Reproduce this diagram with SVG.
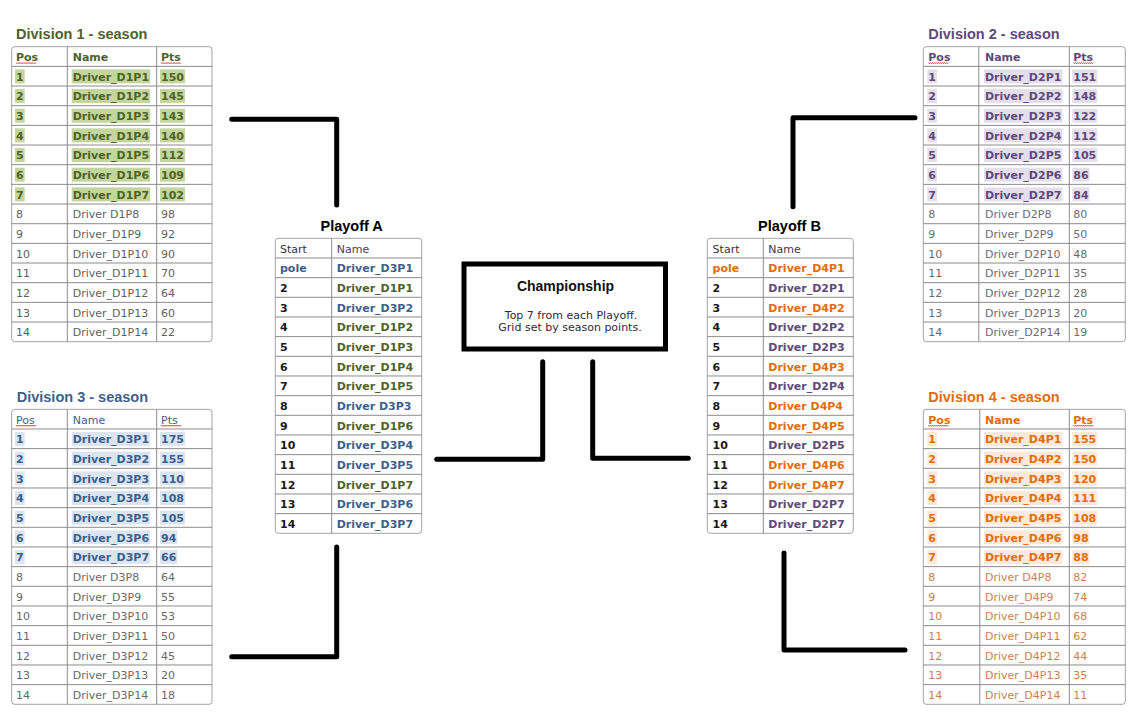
<svg xmlns="http://www.w3.org/2000/svg" xmlns:xlink="http://www.w3.org/1999/xlink" width="1136" height="727" viewBox="0 0 1136 727">
<style>
.t{font-family:"DejaVu Sans",Verdana,sans-serif;font-size:11px}
.b{font-weight:bold}
.h{font-family:"Liberation Sans",Arial,sans-serif;font-size:14.5px;font-weight:bold}
.fr{fill:#fff;stroke:#a3a3a3;stroke-width:1}
.gl{fill:none;stroke:#8c8c8c;stroke-width:1}
.sp{fill:none;stroke:#e02020;stroke-width:0.8}
.c1{fill:#4f6228}.k1{fill:#c3d69b}.l1{fill:#5f5f5f}
.c2{fill:#5f497a}.k2{fill:#e5dfec}.l2{fill:#6e6872}
.c3{fill:#3d5f8c}.k3{fill:#dbe5f1}.l3{fill:#66686c}
.c4{fill:#e36c0a}.k4{fill:#fde9d9}.l4{fill:#cd7f4c}
.n{fill:#1a1a1a}
.conn{fill:none;stroke:#000;stroke-width:5;stroke-linecap:round;stroke-linejoin:round}
</style>
<defs>
<path id="sq" d="M0 0l1 1.2 1-1.2 1 1.2 1-1.2 1 1.2 1-1.2 1 1.2 1-1.2 1 1.2 1-1.2 1 1.2 1-1.2 1 1.2 1-1.2 1 1.2 1-1.2 1 1.2 1-1.2 1 1.2 1-1.2"/>
<path id="rows200" d="M0 19.67H200.3M0 39.33H200.3M0 59H200.3M0 78.67H200.3M0 98.33H200.3M0 118H200.3M0 137.67H200.3M0 157.33H200.3M0 177H200.3M0 196.67H200.3M0 216.33H200.3M0 236H200.3M0 255.67H200.3M0 275.33H200.3"/>
<path id="rows202" d="M0 19.67H202M0 39.33H202M0 59H202M0 78.67H202M0 98.33H202M0 118H202M0 137.67H202M0 157.33H202M0 177H202M0 196.67H202M0 216.33H202M0 236H202M0 255.67H202M0 275.33H202"/>
<path id="rows146" d="M0 19.67H146.4M0 39.33H146.4M0 59H146.4M0 78.67H146.4M0 98.33H146.4M0 118H146.4M0 137.67H146.4M0 157.33H146.4M0 177H146.4M0 196.67H146.4M0 216.33H146.4M0 236H146.4M0 255.67H146.4M0 275.33H146.4"/>
</defs>
<rect width="1136" height="727" fill="#fff"/>

<g id="connectors" class="conn">
<path d="M231.7 119.3H336.7V205"/>
<path d="M915 117.7H793V206.7"/>
<path d="M231.7 656.7H336.7V547"/>
<path d="M905 650H784V553"/>
<path d="M436.7 459.3H542.7V361.7"/>
<path d="M688.3 458.3H592.7V361.7"/>
</g>

<g id="division-1" class="t" transform="translate(11.7,46.7)">
<text class="h c1" x="4.3" y="-7.4">Division 1 - season</text>
<rect class="fr" width="200.3" height="295" rx="3"/>
<use href="#rows200" class="gl"/>
<path class="gl" d="M55.6 0V295M145 0V295"/>
<g class="k1">
<rect x="3.3" y="22.67" width="9.7" height="14"/><rect x="60" y="22.67" width="78.5" height="14"/><rect x="148.3" y="22.67" width="25" height="14"/>
<rect x="3.3" y="42.33" width="9.7" height="14"/><rect x="60" y="42.33" width="78.5" height="14"/><rect x="148.3" y="42.33" width="25" height="14"/>
<rect x="3.3" y="62" width="9.7" height="14"/><rect x="60" y="62" width="78.5" height="14"/><rect x="148.3" y="62" width="25" height="14"/>
<rect x="3.3" y="81.67" width="9.7" height="14"/><rect x="60" y="81.67" width="78.5" height="14"/><rect x="148.3" y="81.67" width="25" height="14"/>
<rect x="3.3" y="101.33" width="9.7" height="14"/><rect x="60" y="101.33" width="78.5" height="14"/><rect x="148.3" y="101.33" width="25" height="14"/>
<rect x="3.3" y="121" width="9.7" height="14"/><rect x="60" y="121" width="78.5" height="14"/><rect x="148.3" y="121" width="25" height="14"/>
<rect x="3.3" y="140.67" width="9.7" height="14"/><rect x="60" y="140.67" width="78.5" height="14"/><rect x="148.3" y="140.67" width="25" height="14"/>
</g>
<g class="b c1">
<text x="4.3" y="14.3">Pos</text><text x="61" y="14.3">Name</text><text x="149.3" y="14.3">Pts</text>
<text x="4.3" y="34">1</text><text x="61" y="34">Driver_D1P1</text><text x="149.3" y="34">150</text>
<text x="4.3" y="53.6">2</text><text x="61" y="53.6">Driver_D1P2</text><text x="149.3" y="53.6">145</text>
<text x="4.3" y="73.3">3</text><text x="61" y="73.3">Driver_D1P3</text><text x="149.3" y="73.3">143</text>
<text x="4.3" y="93">4</text><text x="61" y="93">Driver_D1P4</text><text x="149.3" y="93">140</text>
<text x="4.3" y="112.6">5</text><text x="61" y="112.6">Driver_D1P5</text><text x="149.3" y="112.6">112</text>
<text x="4.3" y="132.3">6</text><text x="61" y="132.3">Driver_D1P6</text><text x="149.3" y="132.3">109</text>
<text x="4.3" y="152">7</text><text x="61" y="152">Driver_D1P7</text><text x="149.3" y="152">102</text>
</g>
<g class="l1">
<text x="4.3" y="171.6">8</text><text x="61" y="171.6">Driver D1P8</text><text x="149.3" y="171.6">98</text>
<text x="4.3" y="191.3">9</text><text x="61" y="191.3">Driver_D1P9</text><text x="149.3" y="191.3">92</text>
<text x="4.3" y="211">10</text><text x="61" y="211">Driver_D1P10</text><text x="149.3" y="211">90</text>
<text x="4.3" y="230.6">11</text><text x="61" y="230.6">Driver_D1P11</text><text x="149.3" y="230.6">70</text>
<text x="4.3" y="250.3">12</text><text x="61" y="250.3">Driver_D1P12</text><text x="149.3" y="250.3">64</text>
<text x="4.3" y="270">13</text><text x="61" y="270">Driver_D1P13</text><text x="149.3" y="270">60</text>
<text x="4.3" y="289.6">14</text><text x="61" y="289.6">Driver_D1P14</text><text x="149.3" y="289.6">22</text>
</g>
<use href="#sq" x="4.3" y="15.8" class="sp"/><use href="#sq" x="149.3" y="15.8" class="sp"/>
</g>

<g id="division-2" class="t" transform="translate(923.3,46.7)">
<text class="h c2" x="5" y="-7.4">Division 2 - season</text>
<rect class="fr" width="202" height="295" rx="3"/>
<use href="#rows202" class="gl"/>
<path class="gl" d="M55.5 0V295M146 0V295"/>
<g class="k2">
<rect x="4" y="22.67" width="9.7" height="14"/><rect x="60.7" y="22.67" width="78.5" height="14"/><rect x="149" y="22.67" width="25" height="14"/>
<rect x="4" y="42.33" width="9.7" height="14"/><rect x="60.7" y="42.33" width="78.5" height="14"/><rect x="149" y="42.33" width="25" height="14"/>
<rect x="4" y="62" width="9.7" height="14"/><rect x="60.7" y="62" width="78.5" height="14"/><rect x="149" y="62" width="25" height="14"/>
<rect x="4" y="81.67" width="9.7" height="14"/><rect x="60.7" y="81.67" width="78.5" height="14"/><rect x="149" y="81.67" width="25" height="14"/>
<rect x="4" y="101.33" width="9.7" height="14"/><rect x="60.7" y="101.33" width="78.5" height="14"/><rect x="149" y="101.33" width="25" height="14"/>
<rect x="4" y="121" width="9.7" height="14"/><rect x="60.7" y="121" width="78.5" height="14"/><rect x="149" y="121" width="17.3" height="14"/>
<rect x="4" y="140.67" width="9.7" height="14"/><rect x="60.7" y="140.67" width="78.5" height="14"/><rect x="149" y="140.67" width="17.3" height="14"/>
</g>
<g class="b c2">
<text x="5" y="14.3">Pos</text><text x="61.7" y="14.3">Name</text><text x="150" y="14.3">Pts</text>
<text x="5" y="34">1</text><text x="61.7" y="34">Driver_D2P1</text><text x="150" y="34">151</text>
<text x="5" y="53.6">2</text><text x="61.7" y="53.6">Driver_D2P2</text><text x="150" y="53.6">148</text>
<text x="5" y="73.3">3</text><text x="61.7" y="73.3">Driver_D2P3</text><text x="150" y="73.3">122</text>
<text x="5" y="93">4</text><text x="61.7" y="93">Driver_D2P4</text><text x="150" y="93">112</text>
<text x="5" y="112.6">5</text><text x="61.7" y="112.6">Driver_D2P5</text><text x="150" y="112.6">105</text>
<text x="5" y="132.3">6</text><text x="61.7" y="132.3">Driver_D2P6</text><text x="150" y="132.3">86</text>
<text x="5" y="152">7</text><text x="61.7" y="152">Driver_D2P7</text><text x="150" y="152">84</text>
</g>
<g class="l2">
<text x="5" y="171.6">8</text><text x="61.7" y="171.6">Driver D2P8</text><text x="150" y="171.6">80</text>
<text x="5" y="191.3">9</text><text x="61.7" y="191.3">Driver_D2P9</text><text x="150" y="191.3">50</text>
<text x="5" y="211">10</text><text x="61.7" y="211">Driver_D2P10</text><text x="150" y="211">48</text>
<text x="5" y="230.6">11</text><text x="61.7" y="230.6">Driver_D2P11</text><text x="150" y="230.6">35</text>
<text x="5" y="250.3">12</text><text x="61.7" y="250.3">Driver_D2P12</text><text x="150" y="250.3">28</text>
<text x="5" y="270">13</text><text x="61.7" y="270">Driver_D2P13</text><text x="150" y="270">20</text>
<text x="5" y="289.6">14</text><text x="61.7" y="289.6">Driver_D2P14</text><text x="150" y="289.6">19</text>
</g>
<use href="#sq" x="5" y="15.8" class="sp"/><use href="#sq" x="150" y="15.8" class="sp"/>
</g>

<g id="division-3" class="t" transform="translate(11.7,409.3)">
<text class="h c3" x="5" y="-7.6">Division 3 - season</text>
<rect class="fr" width="200.3" height="295" rx="3"/>
<use href="#rows200" class="gl"/>
<path class="gl" d="M55.6 0V295M145 0V295"/>
<g class="k3">
<rect x="3.3" y="22.67" width="9.7" height="14"/><rect x="60" y="22.67" width="78.5" height="14"/><rect x="148.3" y="22.67" width="25" height="14"/>
<rect x="3.3" y="42.33" width="9.7" height="14"/><rect x="60" y="42.33" width="78.5" height="14"/><rect x="148.3" y="42.33" width="25" height="14"/>
<rect x="3.3" y="62" width="9.7" height="14"/><rect x="60" y="62" width="78.5" height="14"/><rect x="148.3" y="62" width="25" height="14"/>
<rect x="3.3" y="81.67" width="9.7" height="14"/><rect x="60" y="81.67" width="78.5" height="14"/><rect x="148.3" y="81.67" width="25" height="14"/>
<rect x="3.3" y="101.33" width="9.7" height="14"/><rect x="60" y="101.33" width="78.5" height="14"/><rect x="148.3" y="101.33" width="25" height="14"/>
<rect x="3.3" y="121" width="9.7" height="14"/><rect x="60" y="121" width="78.5" height="14"/><rect x="148.3" y="121" width="17.3" height="14"/>
<rect x="3.3" y="140.67" width="9.7" height="14"/><rect x="60" y="140.67" width="78.5" height="14"/><rect x="148.3" y="140.67" width="17.3" height="14"/>
</g>
<g class="c3">
<text x="4.3" y="14.3">Pos</text><text x="61" y="14.3">Name</text><text x="149.3" y="14.3">Pts</text>
</g>
<g class="b c3">
<text x="4.3" y="34">1</text><text x="61" y="34">Driver_D3P1</text><text x="149.3" y="34">175</text>
<text x="4.3" y="53.6">2</text><text x="61" y="53.6">Driver_D3P2</text><text x="149.3" y="53.6">155</text>
<text x="4.3" y="73.3">3</text><text x="61" y="73.3">Driver_D3P3</text><text x="149.3" y="73.3">110</text>
<text x="4.3" y="93">4</text><text x="61" y="93">Driver_D3P4</text><text x="149.3" y="93">108</text>
<text x="4.3" y="112.6">5</text><text x="61" y="112.6">Driver_D3P5</text><text x="149.3" y="112.6">105</text>
<text x="4.3" y="132.3">6</text><text x="61" y="132.3">Driver_D3P6</text><text x="149.3" y="132.3">94</text>
<text x="4.3" y="152">7</text><text x="61" y="152">Driver_D3P7</text><text x="149.3" y="152">66</text>
</g>
<g class="l3">
<text x="4.3" y="171.6">8</text><text x="61" y="171.6">Driver D3P8</text><text x="149.3" y="171.6">64</text>
<text x="4.3" y="191.3">9</text><text x="61" y="191.3">Driver_D3P9</text><text x="149.3" y="191.3">55</text>
<text x="4.3" y="211">10</text><text x="61" y="211">Driver_D3P10</text><text x="149.3" y="211">53</text>
<text x="4.3" y="230.6">11</text><text x="61" y="230.6">Driver_D3P11</text><text x="149.3" y="230.6">50</text>
<text x="4.3" y="250.3">12</text><text x="61" y="250.3">Driver_D3P12</text><text x="149.3" y="250.3">45</text>
<text x="4.3" y="270">13</text><text x="61" y="270">Driver_D3P13</text><text x="149.3" y="270">20</text>
<text x="4.3" y="289.6">14</text><text x="61" y="289.6">Driver_D3P14</text><text x="149.3" y="289.6">18</text>
</g>
<use href="#sq" x="4.3" y="15.8" class="sp"/><use href="#sq" x="149.3" y="15.8" class="sp"/>
</g>

<g id="division-4" class="t" transform="translate(923.3,409.3)">
<text class="h c4" x="5" y="-7.6">Division 4 - season</text>
<rect class="fr" width="202" height="295" rx="3"/>
<use href="#rows202" class="gl"/>
<path class="gl" d="M56.5 0V295M146 0V295"/>
<g class="k4">
<rect x="4" y="22.67" width="9.7" height="14"/><rect x="60.7" y="22.67" width="78.5" height="14"/><rect x="149" y="22.67" width="25" height="14"/>
<rect x="4" y="42.33" width="9.7" height="14"/><rect x="60.7" y="42.33" width="78.5" height="14"/><rect x="149" y="42.33" width="25" height="14"/>
<rect x="4" y="62" width="9.7" height="14"/><rect x="60.7" y="62" width="78.5" height="14"/><rect x="149" y="62" width="25" height="14"/>
<rect x="4" y="81.67" width="9.7" height="14"/><rect x="60.7" y="81.67" width="78.5" height="14"/><rect x="149" y="81.67" width="25" height="14"/>
<rect x="4" y="101.33" width="9.7" height="14"/><rect x="60.7" y="101.33" width="78.5" height="14"/><rect x="149" y="101.33" width="25" height="14"/>
<rect x="4" y="121" width="9.7" height="14"/><rect x="60.7" y="121" width="78.5" height="14"/><rect x="149" y="121" width="17.3" height="14"/>
<rect x="4" y="140.67" width="9.7" height="14"/><rect x="60.7" y="140.67" width="78.5" height="14"/><rect x="149" y="140.67" width="17.3" height="14"/>
</g>
<g class="b c4">
<text x="5" y="14.3">Pos</text><text x="61.7" y="14.3">Name</text><text x="150" y="14.3">Pts</text>
<text x="5" y="34">1</text><text x="61.7" y="34">Driver_D4P1</text><text x="150" y="34">155</text>
<text x="5" y="53.6">2</text><text x="61.7" y="53.6">Driver_D4P2</text><text x="150" y="53.6">150</text>
<text x="5" y="73.3">3</text><text x="61.7" y="73.3">Driver_D4P3</text><text x="150" y="73.3">120</text>
<text x="5" y="93">4</text><text x="61.7" y="93">Driver_D4P4</text><text x="150" y="93">111</text>
<text x="5" y="112.6">5</text><text x="61.7" y="112.6">Driver_D4P5</text><text x="150" y="112.6">108</text>
<text x="5" y="132.3">6</text><text x="61.7" y="132.3">Driver_D4P6</text><text x="150" y="132.3">98</text>
<text x="5" y="152">7</text><text x="61.7" y="152">Driver_D4P7</text><text x="150" y="152">88</text>
</g>
<g class="l4">
<text x="5" y="171.6">8</text><text x="61.7" y="171.6">Driver D4P8</text><text x="150" y="171.6">82</text>
<text x="5" y="191.3">9</text><text x="61.7" y="191.3">Driver_D4P9</text><text x="150" y="191.3">74</text>
<text x="5" y="211">10</text><text x="61.7" y="211">Driver_D4P10</text><text x="150" y="211">68</text>
<text x="5" y="230.6">11</text><text x="61.7" y="230.6">Driver_D4P11</text><text x="150" y="230.6">62</text>
<text x="5" y="250.3">12</text><text x="61.7" y="250.3">Driver_D4P12</text><text x="150" y="250.3">44</text>
<text x="5" y="270">13</text><text x="61.7" y="270">Driver_D4P13</text><text x="150" y="270">35</text>
<text x="5" y="289.6">14</text><text x="61.7" y="289.6">Driver_D4P14</text><text x="150" y="289.6">11</text>
</g>
<use href="#sq" x="5" y="15.8" class="sp"/><use href="#sq" x="150" y="15.8" class="sp"/>
</g>

<g id="playoff-a" class="t" transform="translate(275.3,238.3)">
<text class="h" fill="#000" x="76.4" y="-7.6" text-anchor="middle">Playoff A</text>
<rect class="fr" width="146.4" height="295" rx="3"/>
<use href="#rows146" class="gl"/>
<path class="gl" d="M56.4 0V295"/>
<text x="4.7" y="14.3" fill="#333">Start</text><text x="61.4" y="14.3" fill="#4a3a55">Name</text>
<g class="b">
<text x="4.7" y="34" class="c3">pole</text>
<g class="n">
<text x="4.7" y="53.6">2</text><text x="4.7" y="73.3">3</text><text x="4.7" y="93">4</text><text x="4.7" y="112.6">5</text><text x="4.7" y="132.3">6</text><text x="4.7" y="152">7</text><text x="4.7" y="171.6">8</text><text x="4.7" y="191.3">9</text><text x="4.7" y="211">10</text><text x="4.7" y="230.6">11</text><text x="4.7" y="250.3">12</text><text x="4.7" y="270">13</text><text x="4.7" y="289.6">14</text>
</g>
<g class="c3">
<text x="61.4" y="34">Driver_D3P1</text><text x="61.4" y="73.3">Driver_D3P2</text><text x="61.4" y="171.6">Driver D3P3</text><text x="61.4" y="211">Driver_D3P4</text><text x="61.4" y="230.6">Driver_D3P5</text><text x="61.4" y="270">Driver_D3P6</text><text x="61.4" y="289.6">Driver_D3P7</text>
</g>
<g class="c1">
<text x="61.4" y="53.6">Driver_D1P1</text><text x="61.4" y="93">Driver_D1P2</text><text x="61.4" y="112.6">Driver_D1P3</text><text x="61.4" y="132.3">Driver_D1P4</text><text x="61.4" y="152">Driver_D1P5</text><text x="61.4" y="191.3">Driver_D1P6</text><text x="61.4" y="250.3">Driver_D1P7</text>
</g>
</g>
</g>

<g id="playoff-b" class="t" transform="translate(707.3,238.3)">
<text class="h" fill="#000" x="82.2" y="-7.6" text-anchor="middle">Playoff B</text>
<rect class="fr" width="146" height="295" rx="3"/>
<use href="#rows146" class="gl"/>
<path class="gl" d="M56 0V295"/>
<text x="5.3" y="14.3" fill="#333">Start</text><text x="61" y="14.3" fill="#3a3a3a">Name</text>
<g class="b">
<text x="5.3" y="34" class="c4">pole</text>
<g class="n">
<text x="5.3" y="53.6">2</text><text x="5.3" y="73.3">3</text><text x="5.3" y="93">4</text><text x="5.3" y="112.6">5</text><text x="5.3" y="132.3">6</text><text x="5.3" y="152">7</text><text x="5.3" y="171.6">8</text><text x="5.3" y="191.3">9</text><text x="5.3" y="211">10</text><text x="5.3" y="230.6">11</text><text x="5.3" y="250.3">12</text><text x="5.3" y="270">13</text><text x="5.3" y="289.6">14</text>
</g>
<g class="c4">
<text x="61" y="34">Driver_D4P1</text><text x="61" y="73.3">Driver_D4P2</text><text x="61" y="132.3">Driver_D4P3</text><text x="61" y="171.6">Driver D4P4</text><text x="61" y="191.3">Driver_D4P5</text><text x="61" y="230.6">Driver_D4P6</text><text x="61" y="250.3">Driver_D4P7</text>
</g>
<g class="c2">
<text x="61" y="53.6">Driver_D2P1</text><text x="61" y="93">Driver_D2P2</text><text x="61" y="112.6">Driver_D2P3</text><text x="61" y="152">Driver_D2P4</text><text x="61" y="211">Driver_D2P5</text><text x="61" y="270">Driver_D2P7</text><text x="61" y="289.6">Driver_D2P7</text>
</g>
</g>
</g>

<g id="championship">
<rect x="464" y="264" width="201.5" height="85" fill="#fff" stroke="#000" stroke-width="5"/>
<text class="h" x="565.5" y="291" text-anchor="middle" fill="#111" style="font-size:14px">Championship</text>
<text class="t" x="571" y="318.5" text-anchor="middle" fill="#2e2a3a">Top 7 from each Playoff.</text>
<text class="t" x="570" y="331" text-anchor="middle" fill="#2e2a3a">Grid set by season points.</text>
</g>
</svg>
